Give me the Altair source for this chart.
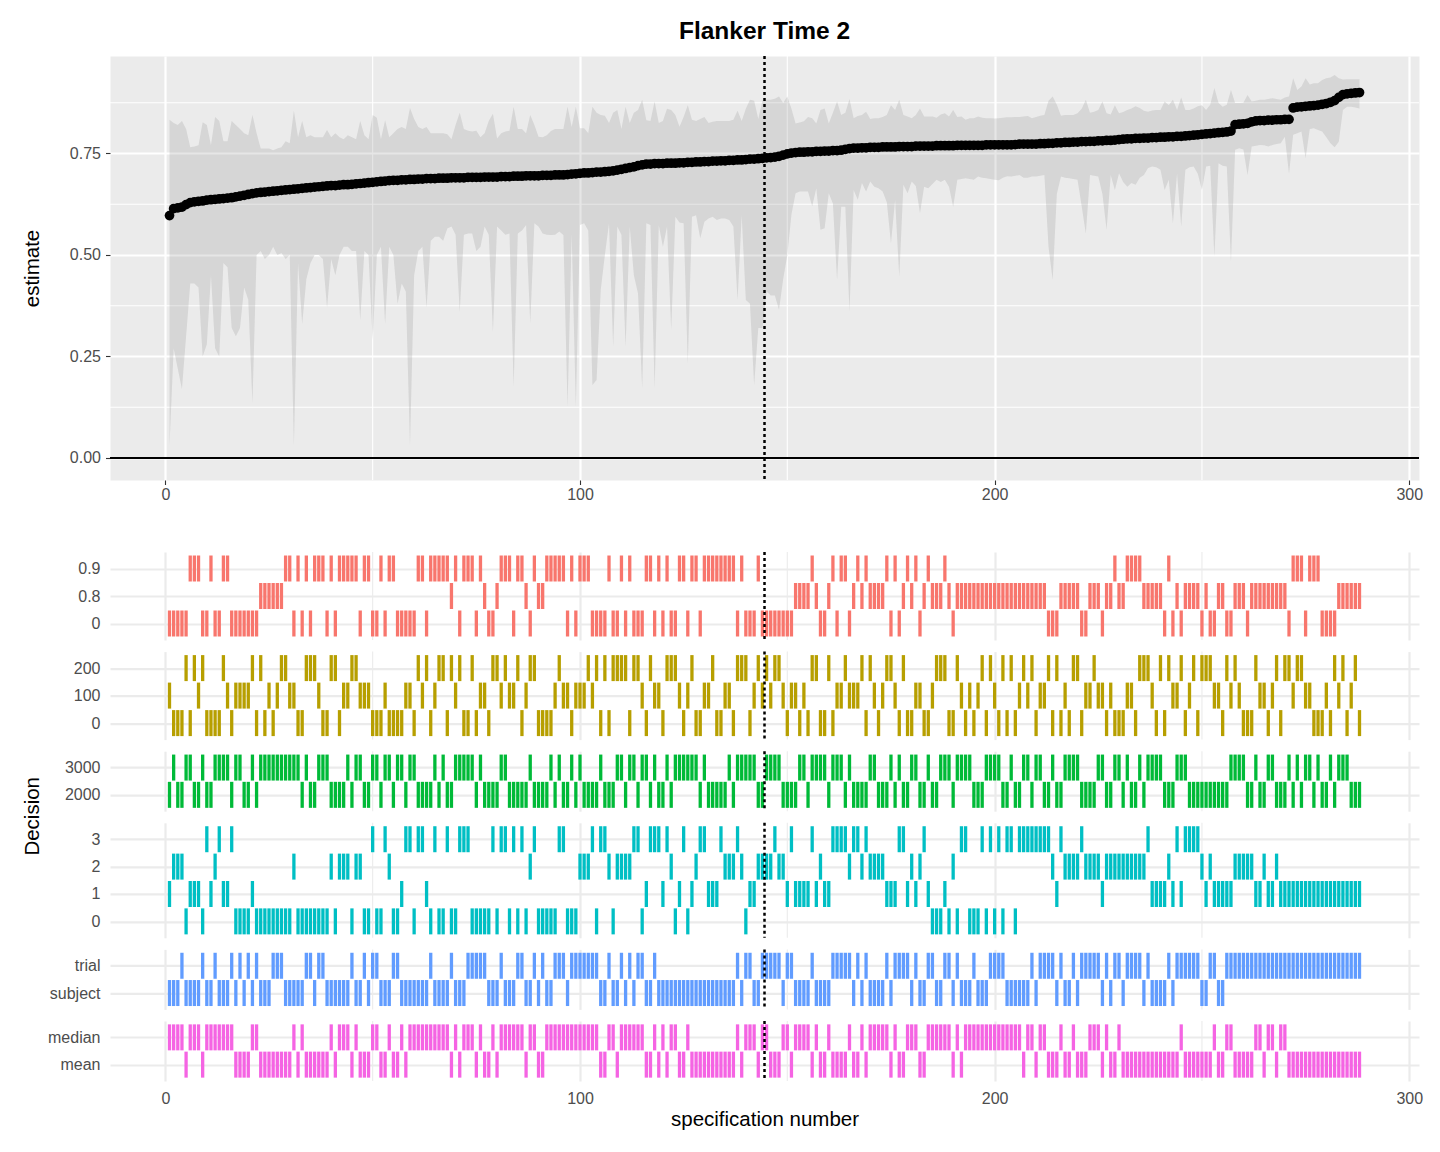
import altair as alt
import pandas as pd

FONT = "Liberation Sans"

# ---------------- data ----------------
spec_n = list(range(1, 289))

estimate = [
    0.597, 0.614, 0.616, 0.618, 0.624, 0.629, 0.631, 0.632, 0.633, 0.635, 0.636, 0.637,
    0.638, 0.639, 0.640, 0.641, 0.643, 0.645, 0.647, 0.649, 0.651, 0.653, 0.654, 0.655,
    0.656, 0.657, 0.658, 0.659, 0.660, 0.661, 0.662, 0.663, 0.664, 0.665, 0.666, 0.667,
    0.668, 0.669, 0.670, 0.671, 0.671, 0.672, 0.673, 0.673, 0.674, 0.675, 0.676, 0.677,
    0.678, 0.679, 0.680, 0.681, 0.682, 0.683, 0.684, 0.684, 0.685, 0.685, 0.686, 0.686,
    0.687, 0.687, 0.688, 0.688, 0.688, 0.689, 0.689, 0.689, 0.690, 0.690, 0.690, 0.690,
    0.691, 0.691, 0.691, 0.691, 0.692, 0.692, 0.692, 0.692, 0.693, 0.693, 0.693, 0.694,
    0.694, 0.694, 0.695, 0.695, 0.695, 0.695, 0.696, 0.696, 0.696, 0.697, 0.697, 0.697,
    0.698, 0.699, 0.700, 0.701, 0.702, 0.702, 0.703, 0.704, 0.704, 0.705, 0.706, 0.707,
    0.709, 0.711, 0.713, 0.715, 0.717, 0.720, 0.722, 0.724, 0.724, 0.725, 0.725, 0.725,
    0.726, 0.726, 0.726, 0.727, 0.727, 0.728, 0.728, 0.729, 0.729, 0.730, 0.730, 0.731,
    0.731, 0.732, 0.732, 0.733, 0.733, 0.734, 0.734, 0.735, 0.736, 0.736, 0.737, 0.738,
    0.739, 0.740, 0.741, 0.743, 0.746, 0.749, 0.751, 0.752, 0.753, 0.753, 0.754, 0.754,
    0.755, 0.755, 0.756, 0.756, 0.757, 0.757, 0.758, 0.760, 0.762, 0.763, 0.763, 0.764,
    0.764, 0.765, 0.765, 0.765, 0.766, 0.766, 0.766, 0.766, 0.767, 0.767, 0.767, 0.767,
    0.768, 0.768, 0.768, 0.768, 0.768, 0.769, 0.769, 0.769, 0.769, 0.769, 0.770, 0.770,
    0.770, 0.770, 0.770, 0.770, 0.770, 0.771, 0.771, 0.771, 0.771, 0.771, 0.771, 0.771,
    0.772, 0.773, 0.773, 0.773, 0.773, 0.773, 0.774, 0.774, 0.775, 0.775, 0.776, 0.776,
    0.777, 0.777, 0.778, 0.778, 0.779, 0.779, 0.780, 0.780, 0.781, 0.781, 0.782, 0.782,
    0.783, 0.784, 0.785, 0.786, 0.786, 0.787, 0.787, 0.788, 0.788, 0.789, 0.789, 0.790,
    0.790, 0.791, 0.791, 0.792, 0.792, 0.793, 0.794, 0.795, 0.796, 0.797, 0.798, 0.799,
    0.800, 0.801, 0.802, 0.803, 0.805, 0.821, 0.822, 0.823, 0.824, 0.828, 0.830, 0.831,
    0.831, 0.832, 0.832, 0.833, 0.833, 0.834, 0.834, 0.862, 0.864, 0.865, 0.866, 0.867,
    0.868, 0.869, 0.871, 0.873, 0.876, 0.880, 0.888, 0.895, 0.897, 0.898, 0.899, 0.900,
]

upper = [
    0.833, 0.825, 0.820, 0.830, 0.810, 0.765, 0.767, 0.770, 0.827, 0.820, 0.770, 0.840,
    0.830, 0.780, 0.780, 0.830, 0.820, 0.810, 0.800, 0.795, 0.845, 0.800, 0.762, 0.762,
    0.762, 0.758, 0.762, 0.765, 0.780, 0.775, 0.855, 0.790, 0.830, 0.790, 0.795, 0.790,
    0.790, 0.790, 0.808, 0.790, 0.800, 0.790, 0.785, 0.795, 0.790, 0.785, 0.830, 0.795,
    0.785, 0.845, 0.838, 0.785, 0.832, 0.790, 0.800, 0.810, 0.815, 0.810, 0.862, 0.835,
    0.815, 0.810, 0.815, 0.800, 0.800, 0.800, 0.800, 0.797, 0.785, 0.820, 0.850, 0.810,
    0.806, 0.804, 0.806, 0.790, 0.800, 0.830, 0.848, 0.787, 0.800, 0.804, 0.806, 0.865,
    0.810, 0.810, 0.800, 0.845, 0.820, 0.791, 0.790, 0.795, 0.805, 0.810, 0.810, 0.810,
    0.865, 0.815, 0.865, 0.812, 0.812, 0.800, 0.865, 0.850, 0.845, 0.843, 0.825, 0.850,
    0.857, 0.810, 0.865, 0.825, 0.850, 0.857, 0.882, 0.832, 0.830, 0.878, 0.825, 0.830,
    0.860, 0.857, 0.845, 0.816, 0.840, 0.869, 0.833, 0.830, 0.835, 0.840, 0.825, 0.828,
    0.830, 0.830, 0.830, 0.830, 0.833, 0.855, 0.830, 0.860, 0.882, 0.880, 0.835, 0.880,
    0.882, 0.882, 0.885, 0.890, 0.874, 0.890, 0.860, 0.824, 0.826, 0.829, 0.840, 0.837,
    0.824, 0.857, 0.861, 0.824, 0.850, 0.878, 0.845, 0.850, 0.884, 0.837, 0.842, 0.845,
    0.853, 0.835, 0.837, 0.837, 0.840, 0.845, 0.869, 0.857, 0.882, 0.845, 0.841, 0.837,
    0.845, 0.861, 0.841, 0.841, 0.841, 0.838, 0.846, 0.849, 0.841, 0.857, 0.840, 0.841,
    0.833, 0.837, 0.837, 0.841, 0.838, 0.837, 0.837, 0.836, 0.837, 0.838, 0.839, 0.839,
    0.840, 0.840, 0.841, 0.842, 0.837, 0.840, 0.843, 0.845, 0.880, 0.890, 0.870, 0.843,
    0.845, 0.845, 0.845, 0.849, 0.860, 0.882, 0.850, 0.853, 0.857, 0.878, 0.849, 0.846,
    0.869, 0.849, 0.852, 0.857, 0.861, 0.866, 0.862, 0.855, 0.853, 0.856, 0.857, 0.857,
    0.878, 0.869, 0.882, 0.857, 0.888, 0.857, 0.857, 0.861, 0.866, 0.869, 0.857, 0.870,
    0.911, 0.874, 0.865, 0.870, 0.906, 0.874, 0.874, 0.875, 0.894, 0.878, 0.880, 0.882,
    0.882, 0.884, 0.886, 0.884, 0.882, 0.888, 0.890, 0.935, 0.906, 0.915, 0.935, 0.920,
    0.923, 0.923, 0.931, 0.935, 0.937, 0.943, 0.935, 0.932, 0.933, 0.933, 0.933, 0.933,
]

lower = [
    0.030, 0.270, 0.220, 0.170, 0.300, 0.430, 0.430, 0.420, 0.250, 0.280, 0.450, 0.270,
    0.250, 0.480, 0.470, 0.320, 0.300, 0.320, 0.420, 0.390, 0.135, 0.500, 0.510, 0.490,
    0.500, 0.520, 0.500, 0.505, 0.490, 0.500, 0.030, 0.480, 0.330, 0.440, 0.480, 0.500,
    0.500, 0.490, 0.370, 0.490, 0.450, 0.500, 0.520, 0.520, 0.510, 0.510, 0.340, 0.510,
    0.500, 0.290, 0.500, 0.520, 0.330, 0.520, 0.500, 0.380, 0.430, 0.410, 0.030, 0.450,
    0.510, 0.520, 0.370, 0.535, 0.545, 0.545, 0.535, 0.565, 0.570, 0.550, 0.360, 0.550,
    0.553, 0.553, 0.510, 0.520, 0.570, 0.550, 0.310, 0.570, 0.560, 0.550, 0.553, 0.176,
    0.553, 0.560, 0.574, 0.332, 0.578, 0.570, 0.553, 0.550, 0.549, 0.550, 0.558, 0.549,
    0.126, 0.553, 0.126, 0.574, 0.578, 0.560, 0.180, 0.192, 0.414, 0.500, 0.578, 0.274,
    0.570, 0.550, 0.274, 0.570, 0.450, 0.405, 0.172, 0.578, 0.574, 0.172, 0.574, 0.520,
    0.570, 0.315, 0.594, 0.580, 0.578, 0.233, 0.594, 0.598, 0.541, 0.582, 0.590, 0.594,
    0.586, 0.590, 0.590, 0.586, 0.570, 0.389, 0.598, 0.389, 0.380, 0.180, 0.320, 0.320,
    0.410, 0.400, 0.400, 0.365, 0.440, 0.500, 0.600, 0.652, 0.656, 0.656, 0.656, 0.620,
    0.664, 0.562, 0.566, 0.652, 0.627, 0.439, 0.619, 0.619, 0.361, 0.660, 0.636, 0.677,
    0.656, 0.681, 0.668, 0.664, 0.656, 0.630, 0.529, 0.636, 0.447, 0.673, 0.652, 0.681,
    0.670, 0.603, 0.668, 0.664, 0.675, 0.685, 0.680, 0.685, 0.668, 0.619, 0.685, 0.687,
    0.689, 0.687, 0.685, 0.693, 0.690, 0.689, 0.687, 0.685, 0.684, 0.690, 0.694, 0.693,
    0.695, 0.697, 0.690, 0.690, 0.693, 0.693, 0.695, 0.697, 0.520, 0.439, 0.650, 0.693,
    0.690, 0.689, 0.687, 0.685, 0.620, 0.553, 0.697, 0.695, 0.693, 0.650, 0.562, 0.697,
    0.660, 0.701, 0.680, 0.668, 0.677, 0.673, 0.690, 0.697, 0.714, 0.718, 0.716, 0.710,
    0.660, 0.685, 0.578, 0.701, 0.570, 0.710, 0.716, 0.718, 0.700, 0.660, 0.718, 0.720,
    0.496, 0.726, 0.720, 0.718, 0.484, 0.759, 0.763, 0.760, 0.697, 0.767, 0.769, 0.771,
    0.770, 0.767, 0.771, 0.773, 0.775, 0.791, 0.700, 0.796, 0.800, 0.804, 0.738, 0.810,
    0.812, 0.808, 0.804, 0.790, 0.775, 0.765, 0.779, 0.857, 0.865, 0.865, 0.863, 0.861,
]

# decision 1: levels (code -> label), shown top to bottom as 0.9, 0.8, 0
d1_labels = ["0", "0.8", "0.9"]
d1_codes = [
    0,0,0,0,0,2,2,2,0,0,2,0, 0,2,2,0,0,0,0,0,0,0,1,1, 1,1,1,1,2,2,0,2,0,2,0,2,
    2,2,0,2,0,2,2,2,2,2,0,2, 2,0,0,2,0,2,2,0,0,0,0,0, 2,2,0,2,2,2,2,2,1,2,0,2,
    2,2,0,2,1,0,0,1,2,2,2,0, 2,2,1,0,2,1,1,2,2,2,2,2, 0,2,0,2,2,2,0,0,0,0,2,0,
    0,2,0,2,0,0,0,2,2,0,2,0, 2,0,0,2,2,0,2,2,0,2,2,2, 2,2,2,2,2,0,2,0,0,0,2,0,
    0,0,0,0,0,0,0,1,1,1,1,2, 1,0,0,1,2,0,2,2,0,1,2,1, 2,1,1,1,1,2,0,2,0,1,2,1,
    2,0,1,2,1,1,1,2,1,0,1,1, 1,1,1,1,1,1,1,1,1,1,1,1, 1,1,1,1,1,1,1,1,0,0,0,1,
    1,1,1,1,0,0,1,1,1,0,1,1, 2,1,1,2,2,2,2,1,1,1,1,1, 0,2,0,1,0,1,1,1,1,0,1,0,
    0,1,1,0,0,1,1,1,0,1,1,1, 1,1,1,1,1,1,0,2,2,2,0,2, 2,2,0,0,0,0,1,1,1,1,1,1,
]
d1_order = ["0.9", "0.8", "0"]

d2_labels = ["0", "100", "200"]
d2_codes = [
    1,0,0,0,2,0,2,1,2,0,0,0, 0,2,1,0,1,1,1,1,2,0,2,0, 1,0,1,2,2,1,1,0,0,2,2,2,
    1,0,0,2,2,0,1,1,2,2,1,1, 1,0,0,0,1,0,0,0,0,1,1,0, 2,1,2,0,1,2,2,0,2,1,2,0,
    0,2,0,1,1,0,2,2,1,2,1,1, 2,0,1,2,2,0,0,0,0,1,2,1, 1,0,1,1,1,2,1,2,0,2,0,2,
    2,2,2,0,2,2,1,0,2,1,1,0, 2,2,2,1,0,1,2,0,0,1,1,2, 0,0,1,1,0,2,2,2,0,1,2,1,
    2,1,2,2,1,0,1,1,0,1,0,2, 2,0,0,2,0,1,1,2,1,1,1,2, 0,2,1,0,1,2,2,1,0,2,0,0,
    1,1,0,0,1,2,2,2,0,0,2,1, 0,1,0,1,2,0,2,1,0,2,0,2, 0,1,2,1,2,0,1,1,2,0,2,0,
    1,0,2,2,0,1,1,2,1,1,0,1, 0,0,0,1,1,0,2,2,2,1,0,2, 0,2,1,1,2,0,1,2,0,2,2,2,
    1,1,0,2,1,2,1,0,0,0,2,1, 1,0,1,2,0,2,2,1,2,2,1,1, 0,0,0,1,0,2,1,2,0,1,2,0,
]
d2_order = ["200", "100", "0"]

d3_labels = ["2000", "3000"]
d3_codes = [
    0,1,0,0,1,1,0,0,1,0,0,1, 1,1,1,0,1,1,0,0,1,0,1,1, 1,1,1,1,1,1,1,1,0,1,0,0,
    1,1,1,0,0,0,0,1,0,1,1,0, 0,1,1,0,1,1,0,1,1,0,1,1, 0,0,0,0,1,0,1,0,0,1,1,1,
    1,1,0,1,0,0,0,0,1,1,0,0, 0,0,0,1,0,0,0,0,1,0,1,0, 0,1,0,1,0,0,0,0,1,0,0,0,
    1,1,0,1,1,0,1,1,0,1,0,0, 1,0,1,1,1,1,1,1,0,1,0,0, 0,0,0,1,0,1,1,1,1,1,0,0,
    1,1,1,1,0,0,0,0,1,1,0,1, 1,1,1,0,1,1,1,0,1,0,0,0, 0,1,1,0,0,0,1,0,1,0,0,1,
    1,0,0,1,0,0,1,1,1,0,1,1, 1,1,0,0,0,1,1,1,1,0,0,1, 0,0,1,1,0,1,1,0,0,1,0,0,
    1,1,1,1,0,0,0,0,1,1,0,0, 1,1,0,1,0,0,1,0,1,1,1,1, 0,0,0,1,1,1,0,0,0,0,0,0,
    0,0,0,0,1,1,1,1,0,0,1,0, 0,1,1,0,0,0,1,0,1,0,1,1, 0,1,0,0,1,0,1,1,1,0,0,0,
]
d3_order = ["3000", "2000"]

d4_labels = ["0", "1", "2", "3"]
d4_codes = [
    1,2,2,2,0,1,1,1,0,3,1,2, 3,1,1,3,0,0,0,0,1,0,0,0, 0,0,0,0,0,0,2,0,0,0,0,0,
    0,0,0,2,0,2,2,2,0,2,2,0, 0,3,0,0,3,2,0,0,1,3,3,0, 3,3,1,0,3,0,0,3,0,0,3,3,
    3,0,0,0,0,0,3,0,3,3,0,3, 0,3,0,2,3,0,0,0,0,0,3,3, 0,0,0,2,2,2,3,0,3,3,2,0,
    2,2,2,2,3,3,0,1,3,3,3,1, 3,2,0,1,3,0,1,2,3,3,1,1, 1,3,2,2,2,3,2,0,1,1,2,2,
    2,2,3,2,2,1,3,1,1,1,1,3, 1,2,1,1,3,3,3,3,2,3,3,2, 3,2,2,2,2,1,1,1,3,3,1,2,
    1,2,3,1,0,0,0,1,0,2,0,3, 3,0,0,0,3,0,3,0,3,0,3,3, 0,3,3,3,3,3,3,3,3,2,1,3,
    2,2,2,2,3,2,2,2,2,1,2,2, 2,2,2,2,2,2,2,2,3,1,1,1, 1,2,1,3,1,3,3,3,3,2,1,2,
    1,1,1,1,1,2,2,2,2,2,1,1, 2,1,1,2,1,1,1,1,1,1,1,1, 1,1,1,1,1,1,1,1,1,1,1,1,
]
d4_order = ["3", "2", "1", "0"]

d5_labels = ["subject", "trial"]
d5_codes = [
    0,0,0,1,0,0,0,0,1,0,0,1, 0,0,0,1,0,1,0,1,0,1,0,0, 0,1,1,1,0,0,0,0,0,1,1,0,
    1,1,0,0,0,0,0,0,1,0,0,1, 0,1,1,0,0,0,1,1,0,0,0,0, 0,0,0,1,0,0,0,0,1,0,0,0,
    1,1,1,1,1,0,0,0,1,0,0,0, 1,1,0,0,1,0,1,0,0,1,1,1, 0,1,1,1,1,1,1,1,0,0,1,0,
    0,1,0,1,0,1,1,0,0,1,0,0, 0,0,0,0,0,0,0,0,0,0,0,0, 0,0,0,0,0,1,0,1,1,0,0,1,
    1,1,1,1,0,1,1,0,0,0,0,1, 0,0,0,0,1,1,1,1,1,0,1,0, 1,0,0,0,0,1,0,1,1,1,1,0,
    1,0,0,1,1,0,0,1,1,0,1,0, 0,0,1,0,0,0,1,1,1,1,0,0, 0,0,0,0,1,0,1,1,1,1,0,1,
    0,0,1,0,1,1,1,1,1,0,1,0, 1,1,0,1,1,1,1,0,1,0,0,0, 0,1,0,1,1,1,1,1,1,0,0,1,
    1,0,0,1,1,1,1,1,1,1,1,1, 1,1,1,1,1,1,1,1,1,1,1,1, 1,1,1,1,1,1,1,1,1,1,1,1,
]
d5_order = ["trial", "subject"]

d6_labels = ["mean", "median"]
d6_codes = [
    1,1,1,1,0,1,1,1,0,1,1,1, 1,1,1,1,0,0,0,0,1,1,0,0, 0,0,0,0,0,0,1,0,1,0,0,0,
    0,0,0,1,0,1,1,1,0,1,0,0, 0,1,1,0,0,1,0,0,1,0,1,1, 1,1,1,1,1,1,1,1,0,1,0,1,
    1,1,0,1,0,0,1,0,1,1,1,1, 1,1,0,1,1,0,0,1,1,1,1,1, 1,1,1,1,1,1,1,1,0,0,1,1,
    0,1,1,1,1,1,1,0,0,1,0,1, 0,1,1,0,0,1,0,0,0,0,0,0, 0,0,0,0,0,1,0,1,1,1,0,1,
    1,0,0,0,1,1,0,1,1,1,1,0, 1,0,0,1,0,0,0,0,1,0,0,1, 0,1,1,1,1,1,0,1,0,0,1,1,
    1,0,0,1,1,1,1,1,1,0,1,0, 1,1,1,1,1,1,1,1,1,1,1,1, 1,1,0,1,1,0,1,1,0,0,0,1,
    0,0,1,0,0,0,1,1,1,0,1,0, 0,1,0,0,0,0,0,0,0,0,0,0, 0,0,0,0,1,0,0,0,0,0,0,0,
    1,0,0,1,1,0,0,0,0,0,1,1, 0,1,1,0,1,1,0,0,0,0,0,0, 0,0,0,0,0,0,0,0,0,0,0,0,
]
d6_order = ["median", "mean"]

panel_colors = ["#F8766D", "#B79F00", "#00BA38", "#00BFC4", "#619CFF", "#F564E3"]

x_ticks = [0, 100, 200, 300]
x_minor = [50, 150, 250]
y_ticks = [0.0, 0.25, 0.50, 0.75]
y_minor = [0.125, 0.375, 0.625, 0.875]
median_spec = 144.5

# ---------------- scales ----------------
xscale = alt.Scale(domain=[-13.35, 302.35], nice=False, zero=False)
yscale = alt.Scale(domain=[-0.0542, 0.990], nice=False, zero=False)

PLOT_W = 1309

# ---------------- top panel ----------------
top_df = pd.DataFrame({"spec": spec_n, "estimate": estimate, "lower": lower, "upper": upper})

x_axis_top = alt.Axis(values=x_ticks, grid=True, gridColor="white", gridWidth=2.2,
                      ticks=True, tickColor="#333333", tickSize=4.5, tickWidth=1.1,
                      domain=False, labelFontSize=16, labelColor="#4D4D4D", labelPadding=2,
                      labelFont=FONT, title=None)
y_axis_top = alt.Axis(values=y_ticks, format=".2f", grid=True, gridColor="white", gridWidth=2.2,
                      ticks=True, tickColor="#333333", tickSize=4.5, tickWidth=1.1,
                      domain=False, labelFontSize=16, labelColor="#4D4D4D", labelPadding=5,
                      labelFont=FONT, title="estimate", titleFontSize=20.5, titleFontWeight="normal",
                      titleColor="black", titleFont=FONT, titleAngle=270, titleBaseline="middle",
                      titleX=-78)

def xt(field="spec"):
    return alt.X(f"{field}:Q", scale=xscale, axis=x_axis_top, title=None)

def yt(field):
    return alt.Y(f"{field}:Q", scale=yscale, axis=y_axis_top, title="estimate")

minor_v = alt.Chart(pd.DataFrame({"spec": x_minor})).mark_rule(
    color="white", strokeWidth=1.1).encode(x=xt())
minor_h = alt.Chart(pd.DataFrame({"estimate": y_minor})).mark_rule(
    color="white", strokeWidth=1.1).encode(y=yt("estimate"))

band = alt.Chart(top_df).mark_area(color="#808080", opacity=0.2).encode(
    x=xt(), y=yt("lower"), y2="upper:Q")
zero_line = alt.Chart(pd.DataFrame({"estimate": [0.0]})).mark_rule(
    color="black", strokeWidth=2).encode(y=yt("estimate"))
points = alt.Chart(top_df).mark_circle(color="black", size=95, opacity=1).encode(
    x=xt(), y=yt("estimate"))
vline_top = alt.Chart(pd.DataFrame({"spec": [median_spec]})).mark_rule(
    color="black", strokeWidth=2.5, strokeDash=[3, 3]).encode(x=xt())

top = alt.layer(minor_v, minor_h, band, zero_line, points, vline_top).properties(
    width=PLOT_W, height=424,
    view=alt.ViewBackground(fill="#EBEBEB", stroke="transparent"),
    title=alt.TitleParams("Flanker Time 2", fontSize=24.5, fontWeight="bold", anchor="middle",
                          color="black", font=FONT, offset=10),
)

# ---------------- decision panels ----------------
panels_def = [
    (d1_labels, d1_codes, d1_order, 88),
    (d2_labels, d2_codes, d2_order, 88),
    (d3_labels, d3_codes, d3_order, 60),
    (d4_labels, d4_codes, d4_order, 115),
    (d5_labels, d5_codes, d5_order, 60),
    (d6_labels, d6_codes, d6_order, 60),
]

panels = []
for k, (labels, codes, order, h) in enumerate(panels_def):
    last = k == len(panels_def) - 1
    df = pd.DataFrame({"spec": spec_n, "level": [labels[c] for c in codes]})
    if last:
        xa = alt.Axis(values=x_ticks, grid=True, gridColor="#EBEBEB", gridWidth=2.2,
                      ticks=False, domain=False, labelFontSize=16, labelColor="#4D4D4D",
                      labelPadding=9, labelFont=FONT, title="specification number",
                      titleFontSize=20.5, titleFontWeight="normal", titleColor="black",
                      titleFont=FONT, titlePadding=3)
    else:
        xa = alt.Axis(values=x_ticks, grid=True, gridColor="#EBEBEB", gridWidth=2.2,
                      ticks=False, domain=False, labels=False, title=None)
    ya_kwargs = dict(grid=True, gridColor="#EBEBEB", gridWidth=2.2, ticks=False, domain=False,
                     labelFontSize=16, labelColor="#4D4D4D", labelPadding=10, labelFont=FONT)
    if k == 3:
        ya = alt.Axis(title="Decision", titleFontSize=20.5, titleFontWeight="normal",
                      titleColor="black", titleFont=FONT, titleAngle=270, titleBaseline="middle",
                      titleX=-78, titleY=-7, **ya_kwargs)
    else:
        ya = alt.Axis(title=None, **ya_kwargs)

    def xs(xa=xa, last=last):
        return alt.X("spec:Q", scale=xscale, axis=xa,
                     title="specification number" if last else None)
    ysc = alt.Scale(type="point", domain=order, padding=0.6)

    minor = alt.Chart(pd.DataFrame({"spec": x_minor})).mark_rule(
        color="#EBEBEB", strokeWidth=1.1).encode(x=xs())
    ticks = alt.Chart(df).mark_tick(color=panel_colors[k], size=26, thickness=3.3, opacity=1).encode(
        x=xs(), y=alt.Y("level:N", scale=ysc, axis=ya, sort=order))
    vl = alt.Chart(pd.DataFrame({"spec": [median_spec]})).mark_rule(
        color="black", strokeWidth=2.5, strokeDash=[3, 3]).encode(x=xs())
    p = alt.layer(minor, ticks, vl).properties(
        width=PLOT_W, height=h,
        view=alt.ViewBackground(fill="white", stroke="transparent"))
    panels.append(p)

bottom = alt.vconcat(*panels, spacing=11.6, bounds="flush")

chart = alt.vconcat(top, bottom, spacing=72, bounds="flush").properties(
    padding={"left": 13, "top": 10, "right": 5, "bottom": 5}
).configure(font=FONT).configure_view(stroke="transparent")

chart.save("out.html", embed_options={"renderer": "svg", "actions": False})
